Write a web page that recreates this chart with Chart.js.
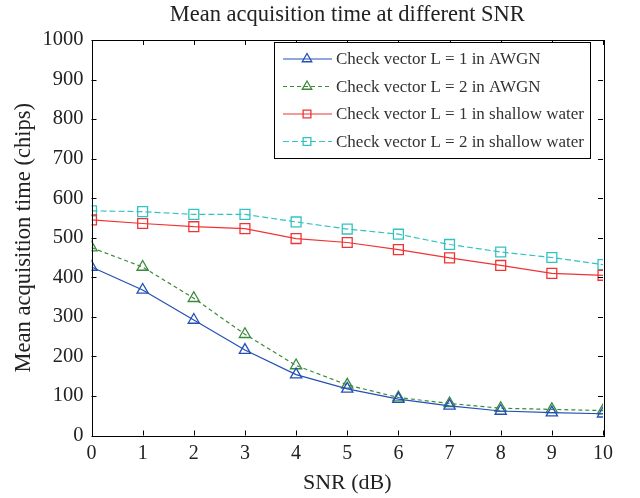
<!DOCTYPE html>
<html><head><meta charset="utf-8">
<script src="https://cdn.jsdelivr.net/npm/chart.js@4/dist/chart.umd.min.js"></script>
<style>html,body{margin:0;padding:0;background:#fff}#wrap{width:640px;height:498px}</style>
</head><body><div id="wrap"><canvas id="c" width="640" height="498"></canvas></div>
<script>
const snr = [0,1,2,3,4,5,6,7,8,9,10];
const awgnL1 = [426,368,292,216,154,118,92,75,62,58,55];
const awgnL2 = [475,426,347,256,177,128,96,81,69,66,63];
const swL1 = [545,536,528,523,498,488,470,449,430,410,405];
const swL2 = [568,566,559,559,540,522,509,483,464,450,432];
const yTicks = [0,100,200,300,400,500,600,700,800,900,1000];
const labels = ["Check vector L = 1 in AWGN","Check vector L = 2 in AWGN","Check vector L = 1 in shallow water","Check vector L = 2 in shallow water"];
const titleText = "Mean acquisition time at different SNR";

const FONT = "'Liberation Serif','Times New Roman',serif";
const mk = (d,label,color,style,dash,r)=>({label,data:snr.map((x,i)=>({x,y:d[i]})),borderColor:color,backgroundColor:'rgba(0,0,0,0)',
  borderWidth:1.2,borderDash:dash,pointStyle:style,pointRadius:r,pointBorderWidth:1.3,pointBorderColor:color,pointBackgroundColor:'rgba(0,0,0,0)',tension:0});

const boxPlugin = {id:'box',afterDraw(chart){
  const {ctx,chartArea:a,scales:{x,y}} = chart;
  ctx.save();
  // title
  ctx.fillStyle='#222';ctx.font='22.5px '+FONT;ctx.textAlign='center';ctx.textBaseline='middle';
  ctx.fillText(titleText,(a.left+a.right)/2,15);
  ctx.strokeStyle='#000';ctx.lineWidth=1;
  ctx.strokeRect(Math.round(a.left)+0.5,Math.round(a.top)+0.5,Math.round(a.right-a.left),Math.round(a.bottom-a.top));
  const L=5;
  ctx.beginPath();
  snr.forEach(v=>{const px=Math.round(x.getPixelForValue(v))+0.5;ctx.moveTo(px,a.bottom);ctx.lineTo(px,a.bottom-L);ctx.moveTo(px,a.top);ctx.lineTo(px,a.top+L);});
  yTicks.forEach(v=>{const py=Math.round(y.getPixelForValue(v))+0.5;ctx.moveTo(a.left,py);ctx.lineTo(a.left+L,py);ctx.moveTo(a.right,py);ctx.lineTo(a.right-L,py);});
  ctx.stroke();
  // legend
  const bx=274,by=42,bw=316,bh=116;
  ctx.fillStyle='#fff';ctx.fillRect(bx,by,bw,bh);
  ctx.strokeRect(bx+0.5,by+0.5,bw,bh);
  ctx.font='17px '+FONT;ctx.textBaseline='middle';ctx.textAlign='left';
  chart.data.datasets.forEach((ds,i)=>{
    const ry=by+17+i*27.5;
    ctx.strokeStyle=ds.borderColor;ctx.lineWidth=1.2;ctx.setLineDash(ds.borderDash||[]);
    ctx.beginPath();ctx.moveTo(283,ry);ctx.lineTo(332,ry);ctx.stroke();ctx.setLineDash([]);
    ctx.lineWidth=1.3;ctx.fillStyle='rgba(0,0,0,0)';
    Chart.helpers.drawPoint(ctx,{pointStyle:ds.pointStyle,radius:5.5,rotation:0,borderWidth:1.3},307,ry);
    ctx.fillStyle='#333';ctx.fillText(ds.label,336,ry+1);
  });
  ctx.restore();
}};

new Chart(document.getElementById('c'),{
  type:'line',
  data:{datasets:[
    mk(awgnL1,labels[0],'#2350b8','triangle',[],6.5),
    mk(awgnL2,labels[1],'#3a8a3a','triangle',[4,3],6.5),
    mk(swL1,labels[2],'#f03434','rect',[],7),
    mk(swL2,labels[3],'#33c2c2','rect',[6,3],7)
  ]},
  options:{responsive:false,animation:false,devicePixelRatio:1,
    layout:{padding:{left:0,right:37,top:40,bottom:0}},
    plugins:{legend:{display:false},tooltip:{enabled:false},title:{display:false}},
    scales:{
      x:{type:'linear',min:0,max:10,grid:{display:false,drawTicks:false},border:{display:false},
        afterFit:s=>{s.height=62.5;},
        afterBuildTicks:s=>{s.ticks=snr.map(v=>({value:v}));},
        ticks:{color:'#222',font:{family:FONT,size:20},padding:6,maxRotation:0,callback:v=>String(v)},
        title:{display:true,text:'SNR (dB)',color:'#222',font:{family:FONT,size:22},padding:{top:0,bottom:2}}},
      y:{type:'linear',min:0,max:1000,grid:{display:false,drawTicks:false},border:{display:false},
        afterFit:s=>{s.width=91.5;},
        afterBuildTicks:s=>{s.ticks=yTicks.map(v=>({value:v}));},
        ticks:{color:'#222',font:{family:FONT,size:20.5},padding:8,callback:v=>String(v)},
        title:{display:true,text:'Mean acquisition time (chips)',color:'#222',font:{family:FONT,size:22.5},padding:{top:11,bottom:0}}}
    }
  },
  plugins:[boxPlugin]
});
</script></body></html>
